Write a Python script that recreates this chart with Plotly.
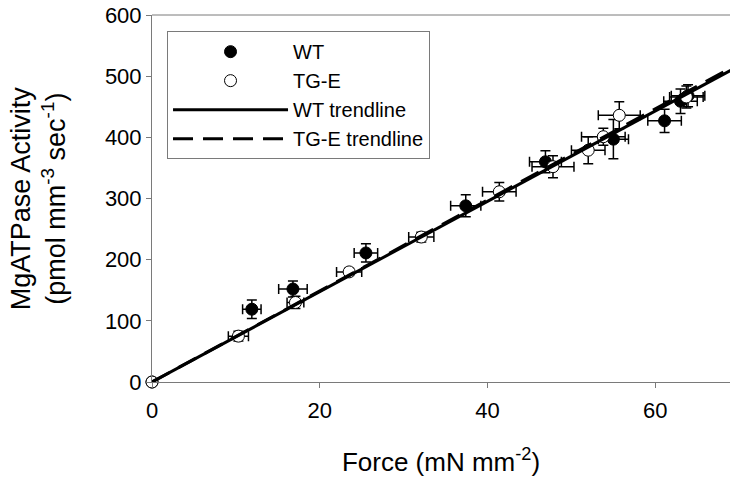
import plotly.graph_objects as go

# ---- data ----
wt_force = [0, 11.9, 16.8, 25.5, 37.4, 46.9, 55.0, 61.1, 63.0, 63.9]
wt_force_err = [0, 1.1, 1.7, 1.4, 1.8, 1.9, 1.8, 2.0, 2.0, 2.0]
wt_atpase = [0, 119, 152, 211, 288, 360, 397, 427, 459, 468]
wt_atpase_err = [0, 15, 13, 15, 18, 18, 32, 19, 20, 18]

tge_force = [0, 10.3, 17.1, 23.5, 32.1, 41.4, 47.8, 52.0, 53.8, 55.7, 63.7]
tge_force_err = [0, 1.2, 1.0, 1.5, 1.5, 2.0, 2.5, 2.0, 2.6, 2.5, 2.0]
tge_atpase = [0, 75, 130, 180, 237, 311, 352, 379, 401, 436, 466]
tge_atpase_err = [0, 8, 10, 6, 8, 15, 18, 22, 14, 22, 18]

trend_x = [0, 70]
wt_trend_y = [0, 517]
tge_trend_y = [0, 521]

x_ticks = [0, 20, 40, 60]
y_ticks = [0, 100, 200, 300, 400, 500, 600]

x_title = "Force (mN mm<sup>-2</sup>)"
y_title = "MgATPase Activity<br>(pmol mm<sup>-3</sup> sec<sup>-1</sup>)"

FONT = "Liberation Sans, Arial, sans-serif"
AXIS_GRAY = "#7a7a7a"

fig = go.Figure()

fig.add_trace(go.Scatter(
    x=wt_force, y=wt_atpase, mode="markers", name="WT",
    marker=dict(size=12, color="black", line=dict(color="black", width=1)),
    error_x=dict(type="data", array=wt_force_err, color="black", thickness=1.5, width=5),
    error_y=dict(type="data", array=wt_atpase_err, color="black", thickness=1.5, width=5),
    cliponaxis=False,
))
fig.add_trace(go.Scatter(
    x=tge_force, y=tge_atpase, mode="markers", name="TG-E",
    marker=dict(size=12, color="white", line=dict(color="black", width=1)),
    error_x=dict(type="data", array=tge_force_err, color="black", thickness=1.5, width=5),
    error_y=dict(type="data", array=tge_atpase_err, color="black", thickness=1.5, width=5),
    cliponaxis=False,
))
fig.add_trace(go.Scatter(
    x=trend_x, y=wt_trend_y, mode="lines", name="WT trendline",
    line=dict(color="black", width=3),
))
fig.add_trace(go.Scatter(
    x=trend_x, y=tge_trend_y, mode="lines", name="TG-E trendline",
    line=dict(color="black", width=3, dash="20px,10px"),
))

fig.update_layout(
    width=730, height=482,
    margin=dict(l=152, r=0, t=15, b=100),
    paper_bgcolor="white", plot_bgcolor="white",
    font=dict(family=FONT, color="black", size=22),
    showlegend=True,
    legend=dict(
        x=0.026, y=0.956, xanchor="left", yanchor="top",
        bgcolor="white", bordercolor=AXIS_GRAY, borderwidth=1,
        font=dict(family=FONT, size=20, color="black"),
        itemwidth=115, tracegroupgap=0,
    ),
    xaxis=dict(
        range=[0, 68.9], tickvals=x_ticks, showgrid=False, zeroline=False,
        showline=True, linecolor=AXIS_GRAY, linewidth=1,
        ticks="outside", ticklen=5, tickcolor=AXIS_GRAY,
        tickfont=dict(size=22), ticklabelstandoff=4,
        title=dict(text=x_title, font=dict(size=26), standoff=30),
    ),
    yaxis=dict(
        range=[0, 600], tickvals=y_ticks, showgrid=False, zeroline=False,
        showline=True, linecolor=AXIS_GRAY, linewidth=1,
        ticks="outside", ticklen=5, tickcolor=AXIS_GRAY,
        tickfont=dict(size=22),
    ),
    annotations=[dict(
        text=y_title, textangle=-90, xref="paper", yref="paper",
        x=-0.196, y=0.5, xanchor="center", yanchor="middle", showarrow=False,
        font=dict(family=FONT, size=27, color="black"),
    )],
    shapes=[dict(type="line", xref="paper", yref="paper", x0=0, x1=1, y0=1, y1=1,
                 line=dict(color=AXIS_GRAY, width=1))],
)

fig.write_html("out.html", config={"displayModeBar": False},
               post_script="document.body.style.margin='0px';")
